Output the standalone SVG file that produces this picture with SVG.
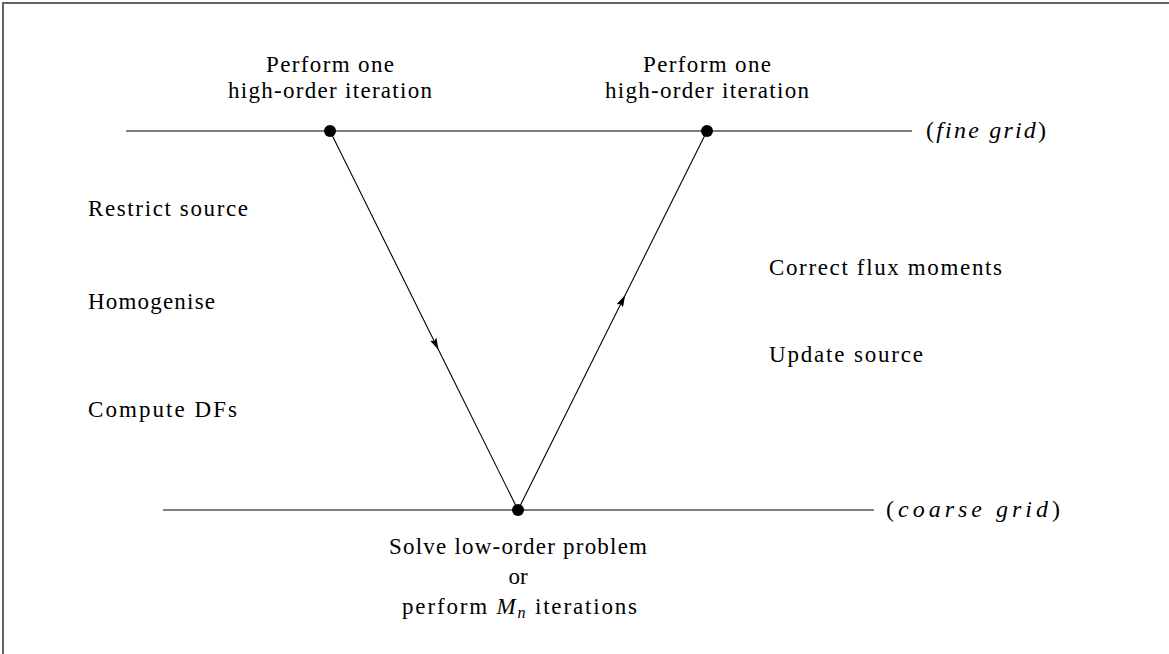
<svg xmlns="http://www.w3.org/2000/svg" width="1169" height="654" viewBox="0 0 1169 654">
<style>
text{font-family:"Liberation Serif","DejaVu Serif",serif;font-size:23px;fill:#000}
.it{font-style:italic}
.gl{font-size:24px}
.ln{stroke:#000;stroke-width:1.1;fill:none}
.dot{fill:#000}
</style>
<defs>
<marker id="ah" viewBox="0 0 12 7" refX="12" refY="3.5" markerWidth="12" markerHeight="7" markerUnits="userSpaceOnUse" orient="auto">
<path d="M0,0 L12,3.5 L0,7 L2,3.5 z" fill="#000"/>
</marker>
</defs>
<rect width="1169" height="654" fill="#fff"/>
<g id="frame">
<path d="M3,654 L3,3 L1169,3" stroke="#666" stroke-width="2" fill="none"/>
</g>
<g id="grids">
<line class="ln" x1="126" y1="131" x2="912" y2="131"/>
<line class="ln" x1="163" y1="510" x2="874" y2="510"/>
</g>
<g id="connectors">
<polyline class="ln" points="330,131 438.6,350 518,510" marker-mid="url(#ah)"/>
<polyline class="ln" points="518,510 625.2,295 707,131" marker-mid="url(#ah)"/>
</g>
<g id="node-fine-left">
<circle class="dot" cx="330" cy="131" r="6"/>
<text x="330" y="72" text-anchor="middle" textLength="128" lengthAdjust="spacing">Perform one</text>
<text x="330" y="98" text-anchor="middle" textLength="204" lengthAdjust="spacing">high-order iteration</text>
</g>
<g id="node-fine-right">
<circle class="dot" cx="707" cy="131" r="6"/>
<text x="707" y="72" text-anchor="middle" textLength="128" lengthAdjust="spacing">Perform one</text>
<text x="707" y="98" text-anchor="middle" textLength="204" lengthAdjust="spacing">high-order iteration</text>
</g>
<g id="node-coarse">
<circle class="dot" cx="518" cy="510" r="6"/>
<text x="518" y="554" text-anchor="middle" textLength="258" lengthAdjust="spacing">Solve low-order problem</text>
<text x="518" y="584" text-anchor="middle">or</text>
<text x="402" y="614" textLength="235" lengthAdjust="spacing">perform <tspan class="it">M</tspan><tspan font-size="16" class="it" dy="4">n</tspan><tspan dy="-4"> iterations</tspan></text>
</g>
<g id="labels-left">
<text x="88" y="216" textLength="160" lengthAdjust="spacing">Restrict source</text>
<text x="88" y="309" textLength="127" lengthAdjust="spacing">Homogenise</text>
<text x="88" y="417" textLength="149" lengthAdjust="spacing">Compute DFs</text>
</g>
<g id="labels-right">
<text x="769" y="275" textLength="233" lengthAdjust="spacing">Correct flux moments</text>
<text x="769" y="362" textLength="154" lengthAdjust="spacing">Update source</text>
</g>
<g id="grid-labels">
<text class="gl" x="926" y="138" textLength="120" lengthAdjust="spacing">(<tspan class="it">fine grid</tspan>)</text>
<text class="gl" x="886" y="517" textLength="174" lengthAdjust="spacing">(<tspan class="it">coarse grid</tspan>)</text>
</g>
</svg>
